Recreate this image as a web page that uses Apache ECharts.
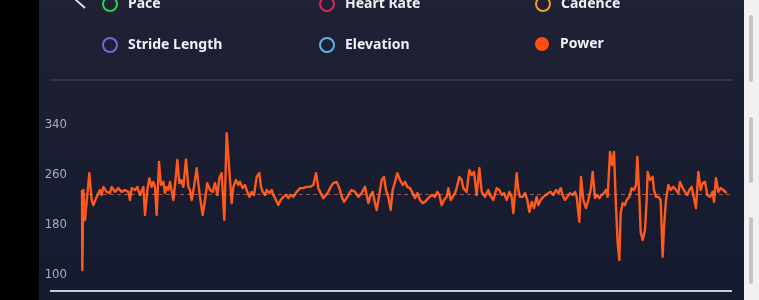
<!DOCTYPE html>
<html>
<head>
<meta charset="utf-8">
<script src="https://cdn.jsdelivr.net/npm/echarts@6/dist/echarts.min.js"></script>
<style>
  html, body { margin: 0; padding: 0; background: #000; }
  #chart { width: 759px; height: 300px; }
</style>
</head>
<body>
<div id="chart"></div>
<script>
// ---- data ----
const legendNames = ['Pace', 'Heart Rate', 'Cadence', 'Stride Length', 'Elevation', 'Power'];
const legendColors = ['#2fd04a', '#e0245e', '#f0a020', '#7b63d8', '#5ab4e6', '#ff4d12'];
const yTicks = [100, 180, 260, 340];
const averagePower = 230;
const totalSeconds = 1944;

// elapsed seconds
const elapsed = [
  0, 1, 4, 9, 14, 22, 29, 34, 39, 44,
  54, 59, 64, 74, 84, 89, 99, 109, 119, 129,
  139, 144, 149, 159, 166, 174, 179, 184, 189, 196,
  202, 209, 214, 219, 224, 231, 237, 244, 249, 254,
  259, 264, 274, 279, 286, 292, 297, 304, 312, 319,
  324, 329, 336, 344, 349, 354, 362, 369, 376, 384,
  392, 399, 406, 412, 419, 427, 434, 442, 449, 454,
  462, 469, 474, 482, 489, 494, 502, 509, 516, 524,
  532, 537, 542, 549, 554, 562, 569, 574, 582, 589,
  596, 604, 612, 619, 626, 634, 644, 654, 664, 674,
  684, 694, 702, 709, 716, 724, 732, 739, 746, 754,
  764, 772, 779, 786, 794, 802, 809, 819, 829, 839,
  849, 854, 859, 864, 872, 879, 884, 891, 899, 906,
  912, 919, 926, 932, 939, 946, 954, 962, 969, 976,
  984, 992, 999, 1006, 1014, 1022, 1029, 1039, 1049, 1059,
  1066, 1072, 1079, 1086, 1094, 1099, 1106, 1112, 1119, 1124,
  1132, 1139, 1144, 1149, 1154, 1162, 1169, 1176, 1184, 1192,
  1199, 1209, 1219, 1224, 1234, 1244, 1252, 1259, 1266, 1274,
  1282, 1289, 1294, 1299, 1304, 1309, 1314, 1322, 1329, 1336,
  1342, 1349, 1356, 1364, 1369, 1376, 1384, 1392, 1399, 1406,
  1414, 1422, 1429, 1436, 1442, 1449, 1456, 1464, 1472, 1479,
  1484, 1492, 1497, 1504, 1512, 1519, 1526, 1532, 1539, 1546,
  1552, 1559, 1566, 1572, 1577, 1584, 1590, 1596, 1602, 1607,
  1612, 1616, 1622, 1629, 1634, 1642, 1649, 1656, 1662, 1666,
  1672, 1676, 1682, 1689, 1694, 1697, 1704, 1712, 1716, 1722,
  1729, 1736, 1742, 1746, 1752, 1759, 1766, 1774, 1782, 1789,
  1794, 1802, 1809, 1816, 1822, 1829, 1834, 1842, 1849, 1856,
  1862, 1869, 1876, 1884, 1892, 1896, 1902, 1909, 1916, 1924,
  1934
];

// power in watts
const power = [
  236, 108, 236, 188, 188, 263, 220, 212, 209, 225,
  236, 228, 241, 233, 231, 241, 233, 239, 233, 236,
  233, 220, 239, 236, 241, 228, 225, 241, 196, 236,
  255, 241, 249, 241, 196, 281, 244, 249, 231, 241,
  236, 249, 220, 244, 284, 247, 252, 241, 285, 241,
  236, 220, 241, 271, 247, 225, 196, 220, 247, 236,
  233, 247, 228, 255, 263, 188, 327, 268, 215, 241,
  252, 244, 249, 239, 244, 236, 225, 233, 228, 257,
  263, 241, 233, 228, 236, 231, 236, 228, 220, 212,
  220, 225, 228, 223, 228, 225, 233, 239, 239, 241,
  241, 244, 263, 239, 231, 223, 228, 233, 241, 247,
  249, 239, 225, 217, 223, 231, 236, 233, 225, 231,
  241, 228, 215, 225, 233, 215, 204, 225, 252, 257,
  236, 225, 204, 236, 249, 263, 252, 244, 249, 241,
  239, 231, 223, 231, 220, 215, 217, 223, 228, 225,
  233, 228, 212, 220, 225, 239, 220, 217, 231, 239,
  257, 252, 239, 241, 233, 268, 260, 265, 228, 271,
  233, 225, 236, 228, 220, 239, 236, 228, 231, 220,
  233, 225, 199, 231, 263, 236, 225, 225, 231, 220,
  201, 217, 207, 225, 212, 220, 225, 228, 231, 233,
  228, 236, 231, 239, 228, 220, 225, 231, 228, 233,
  225, 185, 257, 220, 207, 220, 236, 265, 223, 228,
  223, 228, 231, 236, 225, 297, 276, 297, 209, 151,
  124, 199, 215, 212, 220, 225, 239, 236, 244, 289,
  225, 169, 156, 172, 220, 265, 252, 257, 236, 225,
  225, 220, 129, 177, 220, 244, 236, 241, 236, 231,
  249, 239, 233, 228, 236, 241, 228, 207, 265, 236,
  247, 249, 228, 225, 233, 217, 255, 233, 239, 236,
  231
];

// ---- chart ----
const chart = echarts.init(document.getElementById('chart'), null, { renderer: 'canvas' });

const powerData = elapsed.map((t, i) => [t, power[i]]);

const legendLayout = [
  { left: 102, top: -4 }, { left: 319, top: -4 }, { left: 535, top: -4 },
  { left: 102, top: 37 }, { left: 319, top: 37 }, { left: 535, top: 37 }
];

const legends = legendNames.map((name, i) => ({
  left: legendLayout[i].left,
  top: legendLayout[i].top,
  padding: 0,
  itemWidth: 14,
  itemHeight: 14,
  selectedMode: false,
  textStyle: {
    color: '#eef0f6',
    fontSize: 14,
    fontWeight: 'bold',
    fontFamily: 'Noto Sans, sans-serif',
    padding: [0, 0, 0, 6]
  },
  data: [{
    name: name,
    icon: 'circle',
    itemStyle: name === 'Power'
      ? { color: legendColors[i], borderWidth: 0 }
      : { color: 'rgba(0,0,0,0)', borderColor: legendColors[i], borderWidth: 2 }
  }]
}));

const emptySeries = legendNames.slice(0, 5).map((name, i) => ({
  name: name, type: 'line', data: [], color: legendColors[i], showSymbol: false
}));

chart.setOption({
  backgroundColor: 'transparent',
  animation: false,
  legend: legends,
  grid: { left: 82, right: 29, top: 125, bottom: 25 },
  xAxis: {
    type: 'value', min: 0, max: totalSeconds, show: false
  },
  yAxis: {
    type: 'value',
    min: yTicks[0], max: yTicks[yTicks.length - 1], interval: 80,
    axisLine: { show: false }, axisTick: { show: false }, splitLine: { show: false },
    axisLabel: {
      color: '#a9adbe', fontSize: 13, margin: 15,
      fontFamily: 'Liberation Sans Narrow, DejaVu Sans Condensed, sans-serif'
    }
  },
  graphic: [
    { type: 'rect', z: -20, silent: true, shape: { x: 39, y: 0, width: 705, height: 300 },
      style: { fill: new echarts.graphic.LinearGradient(0, 0, 0, 1, [
        { offset: 0, color: '#1f2134' }, { offset: 1, color: '#151a2e' }]) } },
    { type: 'rect', z: -20, silent: true, shape: { x: 744, y: 0, width: 15, height: 300 },
      style: { fill: '#f1f1f3' } },
    { type: 'rect', z: -19, silent: true, shape: { x: 749, y: 15, width: 4, height: 67, r: 2 }, style: { fill: '#c4c4c8' } },
    { type: 'rect', z: -19, silent: true, shape: { x: 749, y: 117, width: 4, height: 66, r: 2 }, style: { fill: '#c4c4c8' } },
    { type: 'rect', z: -19, silent: true, shape: { x: 749, y: 217, width: 4, height: 67, r: 2 }, style: { fill: '#c4c4c8' } },
    { type: 'line', silent: true, shape: { x1: 50, y1: 80, x2: 732, y2: 80 },
      style: { stroke: '#3a3c52', lineWidth: 1.5 } },
    { type: 'line', silent: true, shape: { x1: 50, y1: 291, x2: 732, y2: 291 },
      style: { stroke: '#c9ccd8', lineWidth: 2 } },
    { type: 'polyline', silent: true, shape: { points: [[85, -9], [76, 0], [85, 8]] },
      style: { stroke: '#e8e8ee', lineWidth: 1.8, fill: null } }
  ],
  series: emptySeries.concat([{
    name: 'Power',
    type: 'line',
    data: powerData,
    color: '#ff4d12',
    showSymbol: false,
    symbol: 'none',
    lineStyle: { color: '#ff5a1c', width: 2.4, join: 'round' },
    z: 3,
    markLine: {
      silent: true,
      symbol: 'none',
      label: { show: false },
      lineStyle: { type: [4, 3], color: 'rgba(255,140,110,0.55)', width: 1 },
      data: [{ yAxis: averagePower }]
    }
  }])
});
</script>
</body>
</html>
